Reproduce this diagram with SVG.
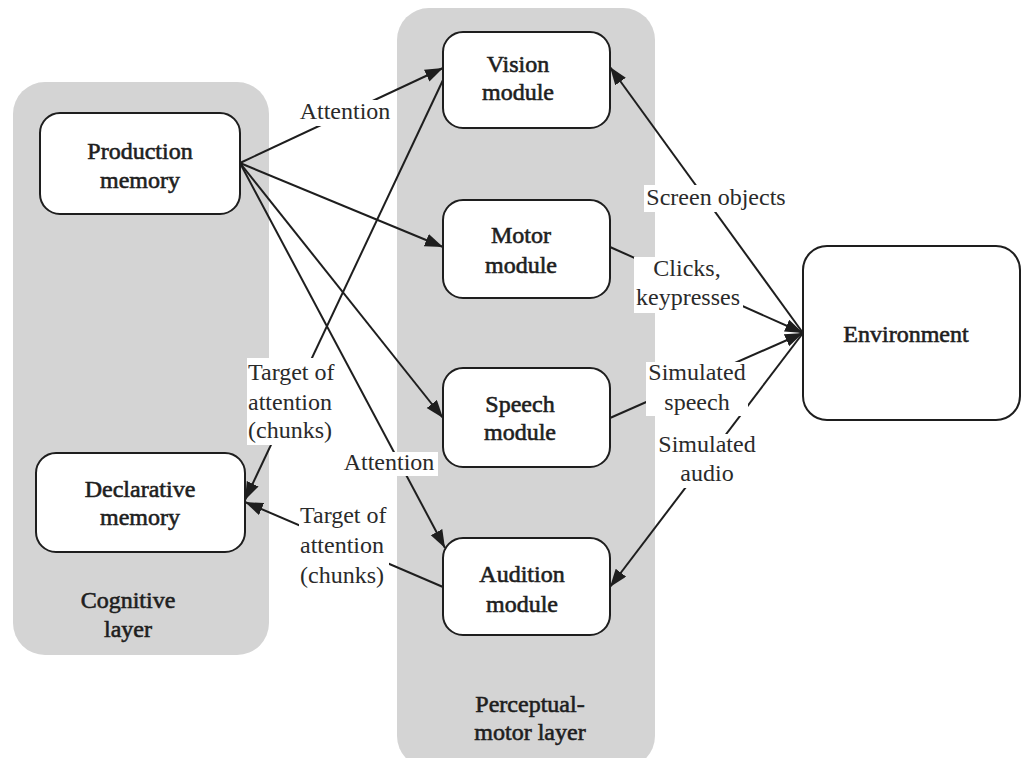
<svg xmlns="http://www.w3.org/2000/svg" width="1022" height="758" viewBox="0 0 1022 758">
<style>
.panel{fill:#d4d4d4;stroke:none}
.box{fill:#fff;stroke:#1e1e1e;stroke-width:2}
.nl{font-family:'Liberation Serif','DejaVu Serif',serif;font-size:24px;fill:#1e1e1e;stroke:#1e1e1e;stroke-width:0.6;text-anchor:middle}
.el{font-family:'Liberation Serif','DejaVu Serif',serif;font-size:24px;fill:#2a2a2a;text-anchor:middle}
.els{font-family:'Liberation Serif','DejaVu Serif',serif;font-size:24px;fill:#2a2a2a;text-anchor:start}
.edge{stroke:#1e1e1e;stroke-width:2;fill:none}
.bg{fill:#fff;stroke:none}
</style>
<defs>
<marker id="arr" markerUnits="userSpaceOnUse" markerWidth="20" markerHeight="14" refX="18" refY="6.5" orient="auto">
<path d="M0,0 L18,6.5 L0,13 z" fill="#1e1e1e"/>
</marker>
</defs>
<rect width="1022" height="758" fill="#fff"/>
<g id="cognitive-layer">
<rect class="panel" x="13" y="82" width="256" height="573" rx="32"/>
<text class="nl" x="128" y="608">Cognitive</text>
<text class="nl" x="128" y="637">layer</text>
</g>
<g id="perceptual-motor-layer">
<rect class="panel" x="397" y="8" width="258" height="760" rx="32"/>
<text class="nl" x="530" y="712">Perceptual-</text>
<text class="nl" x="530" y="740">motor layer</text>
</g>
<g id="connectors">
<line class="edge" x1="240" y1="163" x2="443" y2="68" marker-end="url(#arr)"/>
<line class="edge" x1="240" y1="163" x2="443" y2="247" marker-end="url(#arr)"/>
<line class="edge" x1="240" y1="163" x2="443" y2="418" marker-end="url(#arr)"/>
<line class="edge" x1="240" y1="163" x2="445" y2="548" marker-end="url(#arr)"/>
<line class="edge" x1="443" y1="80" x2="245" y2="500" marker-end="url(#arr)"/>
<line class="edge" x1="443" y1="587" x2="245" y2="502" marker-end="url(#arr)"/>
<line class="edge" x1="803" y1="333" x2="610" y2="67" marker-end="url(#arr)"/>
<line class="edge" x1="610" y1="247" x2="803" y2="333" marker-end="url(#arr)"/>
<line class="edge" x1="610" y1="418" x2="803" y2="333" marker-end="url(#arr)"/>
<line class="edge" x1="803" y1="333" x2="610" y2="587" marker-end="url(#arr)"/>
<rect class="bg" x="296" y="100" width="100" height="26"/>
<text class="el" x="345" y="119">Attention</text>
<rect class="bg" x="644" y="185" width="145" height="27"/>
<text class="el" x="716" y="205">Screen objects</text>
<rect class="bg" x="634" y="257" width="109" height="56"/>
<text class="el" x="687" y="276">Clicks,</text>
<text class="el" x="688" y="305">keypresses</text>
<rect class="bg" x="646" y="362" width="102" height="54"/>
<text class="el" x="697" y="380">Simulated</text>
<text class="el" x="697" y="410">speech</text>
<rect class="bg" x="656" y="434" width="103" height="54"/>
<text class="el" x="707" y="452">Simulated</text>
<text class="el" x="707" y="481">audio</text>
<rect class="bg" x="247" y="358" width="90" height="87"/>
<text class="els" x="248" y="380">Target of</text>
<text class="els" x="248" y="410">attention</text>
<text class="els" x="248" y="438">(chunks)</text>
<rect class="bg" x="343" y="452" width="95" height="24"/>
<text class="el" x="389" y="470">Attention</text>
<rect class="bg" x="299" y="505" width="90" height="85"/>
<text class="els" x="300" y="523">Target of</text>
<text class="els" x="300" y="553">attention</text>
<text class="els" x="300" y="583">(chunks)</text>
</g>
<g id="production-memory">
<rect class="box" x="40" y="113" width="200" height="101" rx="20"/>
<text class="nl" x="140" y="159">Production</text>
<text class="nl" x="140" y="188">memory</text>
</g>
<g id="declarative-memory">
<rect class="box" x="36" y="453" width="209" height="99" rx="20"/>
<text class="nl" x="140" y="497">Declarative</text>
<text class="nl" x="140" y="525">memory</text>
</g>
<g id="vision-module">
<rect class="box" x="443" y="32" width="167" height="96" rx="20"/>
<text class="nl" x="518" y="72">Vision</text>
<text class="nl" x="518" y="100">module</text>
</g>
<g id="motor-module">
<rect class="box" x="443" y="200" width="167" height="98" rx="20"/>
<text class="nl" x="521" y="243">Motor</text>
<text class="nl" x="521" y="273">module</text>
</g>
<g id="speech-module">
<rect class="box" x="443" y="368" width="167" height="99" rx="20"/>
<text class="nl" x="520" y="412">Speech</text>
<text class="nl" x="520" y="440">module</text>
</g>
<g id="audition-module">
<rect class="box" x="443" y="538" width="167" height="97" rx="20"/>
<text class="nl" x="522" y="582">Audition</text>
<text class="nl" x="522" y="612">module</text>
</g>
<g id="environment">
<rect class="box" x="803" y="246" width="217" height="174" rx="24"/>
<text class="nl" x="906" y="342">Environment</text>
</g>
</svg>
